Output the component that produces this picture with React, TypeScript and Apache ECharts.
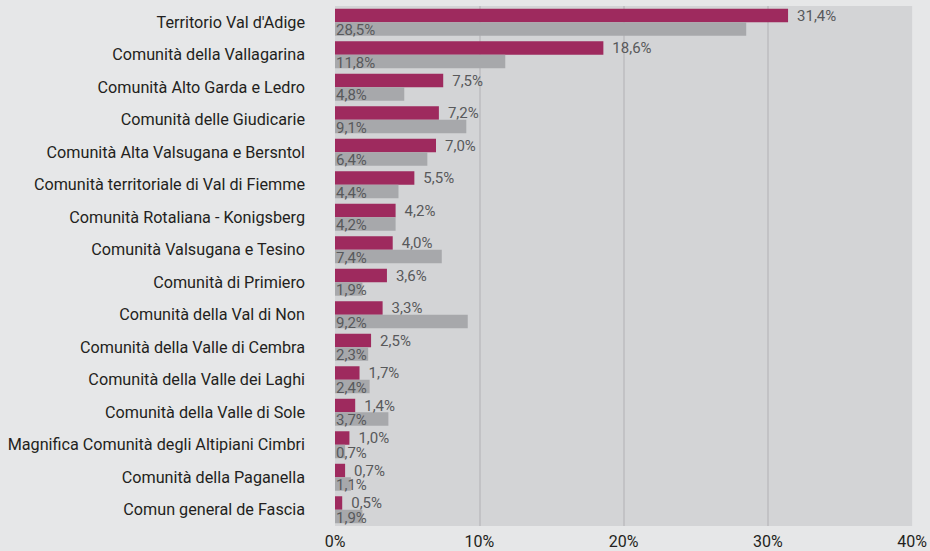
import React, { useEffect, useRef } from "react";
import * as echarts from "echarts";

const categories = [
  "Territorio Val d'Adige",
  "Comunità della Vallagarina",
  "Comunità Alto Garda e Ledro",
  "Comunità delle Giudicarie",
  "Comunità Alta Valsugana e Bersntol",
  "Comunità territoriale di Val di Fiemme",
  "Comunità Rotaliana - Konigsberg",
  "Comunità Valsugana e Tesino",
  "Comunità di Primiero",
  "Comunità della Val di Non",
  "Comunità della Valle di Cembra",
  "Comunità della Valle dei Laghi",
  "Comunità della Valle di Sole",
  "Magnifica Comunità degli Altipiani Cimbri",
  "Comunità della Paganella",
  "Comun general de Fascia",
];

const seriesA = [31.4, 18.6, 7.5, 7.2, 7.0, 5.5, 4.2, 4.0, 3.6, 3.3, 2.5, 1.7, 1.4, 1.0, 0.7, 0.5];
const seriesB = [28.5, 11.8, 4.8, 9.1, 6.4, 4.4, 4.2, 7.4, 1.9, 9.2, 2.3, 2.4, 3.7, 0.7, 1.1, 1.9];

const xTicks = [0, 10, 20, 30, 40];

const FONT = "Roboto";

const fmt = (v: number) => v.toFixed(1).replace(".", ",") + "%";

export default function App() {
  const ref = useRef<HTMLDivElement>(null);
  useEffect(() => {
    document.body.style.margin = "0";
    document.body.style.background = "#e6e7e8";
    const chart = echarts.init(ref.current!, null, { renderer: "svg" });
    chart.setOption({
      animation: false,
      backgroundColor: "#e6e7e8",
      textStyle: { fontFamily: FONT },
      grid: {
        left: 335,
        right: 17,
        top: 6,
        bottom: 25,
        show: true,
        backgroundColor: "#d3d4d6",
        borderWidth: 0,
        containLabel: false,
      },
      xAxis: {
        type: "value",
        min: xTicks[0],
        max: xTicks[xTicks.length - 1],
        interval: 10,
        axisLine: { show: false },
        axisTick: { show: false },
        axisLabel: {
          formatter: "{value}%",
          color: "#231f20",
          fontSize: 16,
          fontFamily: FONT,
          margin: 7,
        },
        splitLine: {
          show: true,
          lineStyle: {
            color: ["transparent", "#bcbdbf", "#bcbdbf", "#bcbdbf", "transparent"],
            width: 1.5,
          },
        },
      },
      yAxis: {
        type: "category",
        data: categories,
        inverse: true,
        axisLine: { show: false },
        axisTick: { show: false },
        axisLabel: {
          color: "#231f20",
          fontSize: 16.2,
          fontFamily: FONT,
          margin: 30,
        },
      },
      series: [
        {
          type: "bar",
          data: seriesA,
          barGap: "0%",
          barCategoryGap: "17%",
          itemStyle: { color: "#9e2a5e" },
          label: {
            show: true,
            position: "right",
            distance: 9,
            formatter: (p: any) => fmt(p.value),
            color: "#58595b",
            fontSize: 15,
            fontFamily: FONT,
          },
        },
        {
          type: "bar",
          data: seriesB,
          itemStyle: { color: "#a7a8ab" },
          label: {
            show: true,
            position: "insideLeft",
            distance: 1,
            offset: [0, 1.5],
            formatter: (p: any) => fmt(p.value),
            color: "#58595b",
            fontSize: 15,
            fontFamily: FONT,
          },
        },
      ],
    });
    return () => chart.dispose();
  }, []);
  return <div ref={ref} style={{ width: 930, height: 551 }} />;
}
